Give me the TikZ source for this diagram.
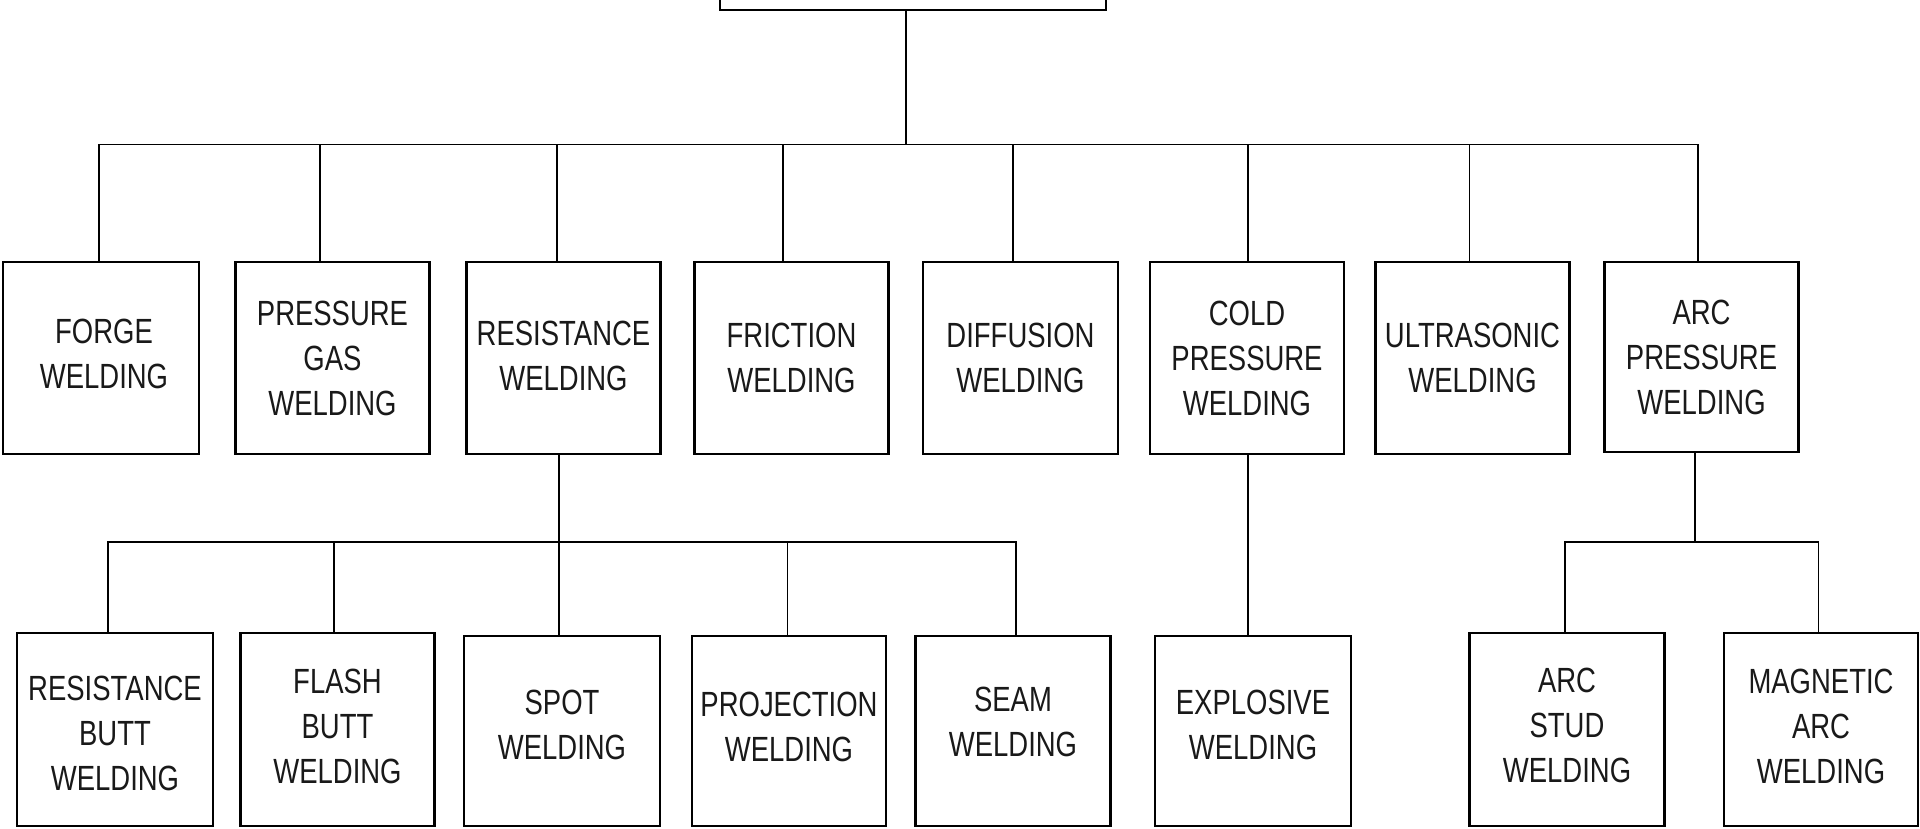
\documentclass[tikz,border=0pt]{standalone}
\usepackage{fontspec}
\newfontfamily\lbfont[FakeStretch=0.785]{Liberation Sans}
\begin{document}
\begin{tikzpicture}[x=1pt,y=-1pt,
  box/.style={draw=black,line width=2.3pt,rectangle,inner sep=0pt,
    minimum width=194pt,minimum height=192pt},
  lbl/.style={align=center,inner sep=0pt,
    font=\lbfont\fontsize{35}{45}\selectfont,text=black!90},
  conn/.style={draw=black,line width=1.8pt}]
\clip (0,0) rectangle (1920,829);
\fill[white] (0,0) rectangle (1920,829);
% root (cut off at top)
\node[box,minimum width=386pt,minimum height=100pt] (root) at (913,-40) {};
\coordinate (b1) at (906,144.5);
\coordinate (b2) at (559,541.7);
\coordinate (b3) at (1695,541.7);
% level 1
\node[box,minimum width=196pt,label={[lbl,yshift=4pt,xshift=3pt]center:{FORGE\\WELDING}}] (forge) at (101,358) {};
\node[box,label={[lbl]center:{PRESSURE\\GAS\\WELDING}}] (pgas) at (332.5,358) {};
\node[box,label={[lbl,yshift=2pt]center:{RESISTANCE\\WELDING}}] (res) at (563.5,358) {};
\node[box,label={[lbl]center:{FRICTION\\WELDING}}] (fric) at (791.5,358) {};
\node[box,minimum width=195pt,label={[lbl]center:{DIFFUSION\\WELDING}}] (diff) at (1020.5,358) {};
\node[box,label={[lbl]center:{COLD\\PRESSURE\\WELDING}}] (cold) at (1247,358) {};
\node[box,label={[lbl]center:{ULTRASONIC\\WELDING}}] (ultra) at (1472.5,358) {};
\node[box,minimum height=190pt,label={[lbl]center:{ARC\\PRESSURE\\WELDING}}] (arcp) at (1701.5,357) {};
% level 2
\node[box,minimum width=196pt,minimum height=193pt,label={[lbl,yshift=-4pt]center:{RESISTANCE\\BUTT\\WELDING}}] (rbutt) at (115,729.5) {};
\node[box,minimum height=193pt,label={[lbl,yshift=3.5pt]center:{FLASH\\BUTT\\WELDING}}] (fbutt) at (337.5,729.5) {};
\node[box,minimum width=196pt,minimum height=190pt,label={[lbl,yshift=6.5pt]center:{SPOT\\WELDING}}] (spot) at (562,731) {};
\node[box,minimum height=190pt,label={[lbl,yshift=4pt]center:{PROJECTION\\WELDING}}] (proj) at (789,731) {};
\node[box,minimum width=195pt,minimum height=190pt,label={[lbl,yshift=9.5pt]center:{SEAM\\WELDING}}] (seam) at (1013,731) {};
\node[box,minimum width=196pt,minimum height=190pt,label={[lbl,yshift=6.5pt]center:{EXPLOSIVE\\WELDING}}] (expl) at (1253,731) {};
\node[box,minimum width=195pt,minimum height=193pt,label={[lbl,yshift=4pt]center:{ARC\\STUD\\WELDING}}] (astud) at (1567,729.5) {};
\node[box,minimum width=194pt,minimum height=193pt,label={[lbl,yshift=3.5pt]center:{MAGNETIC\\ARC\\WELDING}}] (marc) at (1821,729.5) {};
% connectors level 0 -> 1
\draw[conn] ([xshift=-7pt]root.south) -- (b1);
\draw[conn] ([xshift=-2.4pt]forge.north) |- (b1);
\draw[conn] ([xshift=-12.5pt]pgas.north) |- (b1);
\draw[conn] ([xshift=-6.5pt]res.north) |- (b1);
\draw[conn] ([xshift=-8.5pt]fric.north) |- (b1);
\draw[conn] ([xshift=-7.5pt]diff.north) |- (b1);
\draw[conn] ([xshift=1pt]cold.north) |- (b1);
\draw[conn] ([xshift=-3pt]ultra.north) |- (b1);
\draw[conn] ([xshift=-3.5pt]arcp.north) |- (b1);
% resistance -> children
\draw[conn] ([xshift=-4.5pt]res.south) -- (b2);
\draw[conn] ([xshift=-7pt]rbutt.north) |- (b2);
\draw[conn] ([xshift=-3.5pt]fbutt.north) |- (b2);
\draw[conn] ([xshift=-3pt]spot.north) -- (b2);
\draw[conn] ([xshift=-1.5pt]proj.north) |- (b2);
\draw[conn] ([xshift=2.7pt]seam.north) |- (b2);
% cold -> explosive
\draw[conn] ([xshift=1pt]cold.south) -- ([xshift=-5pt]expl.north);
% arc pressure -> children
\draw[conn] ([xshift=-6.5pt]arcp.south) -- (b3);
\draw[conn] ([xshift=-2pt]astud.north) |- (b3);
\draw[conn] ([xshift=-2.5pt]marc.north) |- (b3);
\end{tikzpicture}
\end{document}
